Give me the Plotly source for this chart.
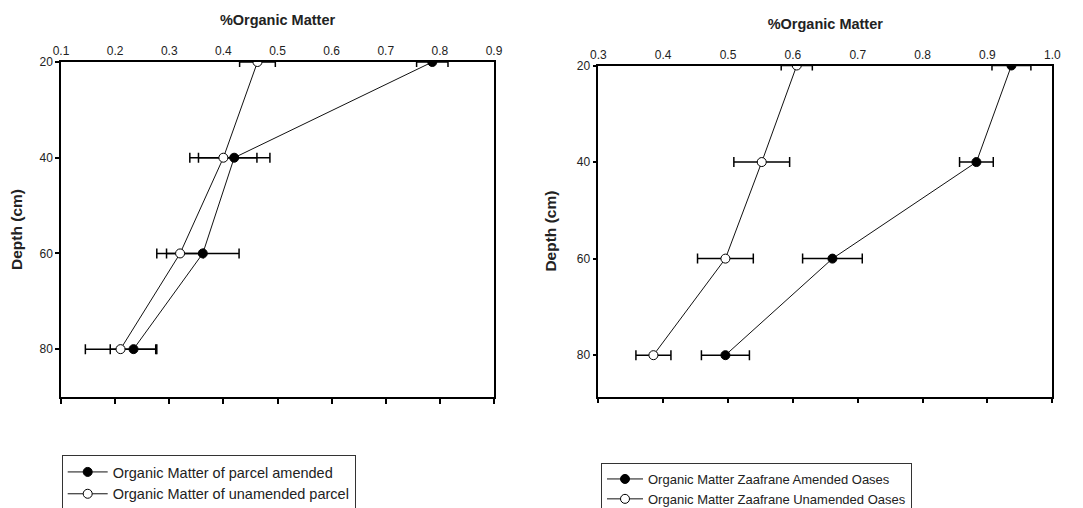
import plotly.graph_objects as go

depth = [20, 40, 60, 80]

# Left panel
left_amended = [0.786, 0.420, 0.362, 0.234]
left_amended_err = [0.029, 0.066, 0.067, 0.043]
left_unamended = [0.463, 0.400, 0.320, 0.210]
left_unamended_err = [0.033, 0.062, 0.043, 0.065]

# Right panel
right_amended = [0.937, 0.883, 0.661, 0.496]
right_amended_err = [0.030, 0.026, 0.046, 0.037]
right_unamended = [0.606, 0.552, 0.496, 0.385]
right_unamended_err = [0.024, 0.043, 0.043, 0.027]

left_ticks = [0.1, 0.2, 0.3, 0.4, 0.5, 0.6, 0.7, 0.8, 0.9]
left_ticktext = ["0.1", "0.2", "0.3", "0.4", "0.5", "0.6", "0.7", "0.8", "0.9"]
right_ticks = [0.3, 0.4, 0.5, 0.6, 0.7, 0.8, 0.9, 1.0]
right_ticktext = ["0.3", "0.4", "0.5", "0.6", "0.7", "0.8", "0.9", "1.0"]
depth_ticks = [20, 40, 60, 80]

FONT = "Liberation Sans, Arial, sans-serif"
OFF = 8  # default page body margin
W, H = 1083 - OFF, 508 - OFF


def px(x):
    return (x - OFF) / W


def py(y):
    return 1 - (y - OFF) / H


def series(x, err, name, filled, xa, ya, legend):
    return go.Scatter(
        x=x, y=depth, name=name, mode="lines+markers",
        xaxis=xa, yaxis=ya, legend=legend,
        line=dict(color="#111111", width=1),
        marker=dict(symbol="circle", size=9,
                    color="black" if filled else "white",
                    line=dict(color="black", width=1)),
        error_x=dict(type="data", array=err, visible=True,
                     color="black", thickness=1.5, width=5),
    )


fig = go.Figure()
fig.add_trace(series(left_amended, left_amended_err, "Organic Matter of parcel amended", True, "x", "y", "legend"))
fig.add_trace(series(left_unamended, left_unamended_err, "Organic Matter of unamended parcel", False, "x", "y", "legend"))
fig.add_trace(series(right_amended, right_amended_err, "Organic Matter Zaafrane Amended Oases", True, "x2", "y2", "legend2"))
fig.add_trace(series(right_unamended, right_unamended_err, "Organic Matter Zaafrane Unamended Oases", False, "x2", "y2", "legend2"))
# invisible traces to activate bottom tick axes
fig.add_trace(go.Scatter(x=[None], y=[None], xaxis="x3", yaxis="y", showlegend=False, hoverinfo="skip"))
fig.add_trace(go.Scatter(x=[None], y=[None], xaxis="x4", yaxis="y2", showlegend=False, hoverinfo="skip"))

tickfont = dict(family=FONT, size=12, color="#222222")
titlefont = dict(family=FONT, size=14.5, color="#222222")

common_top = dict(side="top", showline=True, linecolor="black", linewidth=1.5,
                  ticks="", showgrid=False, zeroline=False, tickfont=tickfont,
                  title_font=titlefont, title_standoff=15, automargin=False)
common_bottom = dict(side="bottom", showticklabels=False, ticks="outside", ticklen=5,
                     tickwidth=1.5, tickcolor="black", showline=True, linecolor="black",
                     linewidth=1.5, showgrid=False, zeroline=False, automargin=False)
common_y = dict(ticks="outside", ticklen=4, tickwidth=1.5, tickcolor="black",
                showline=True, mirror=True, linecolor="black", linewidth=1.5,
                showgrid=False, zeroline=False, tickfont=tickfont,
                title_text="<b>Depth (cm)</b>",
                title_font=dict(family=FONT, size=15.5, color="#222222"),
                title_standoff=16, automargin=False, tickvals=depth_ticks)

fig.update_layout(
    xaxis=dict(domain=[px(61), px(494)], anchor="y", range=[0.1, 0.9], tickvals=left_ticks,
               ticktext=left_ticktext, title_text="<b>%Organic Matter</b>", **common_top),
    xaxis2=dict(domain=[px(598.3), px(1052.3)], anchor="y2", range=[0.3, 1.0], tickvals=right_ticks,
                ticktext=right_ticktext, title_text="<b>%Organic Matter</b>", **common_top),
    xaxis3=dict(overlaying="x", anchor="y", range=[0.1, 0.9], tickvals=left_ticks, **common_bottom),
    xaxis4=dict(overlaying="x2", anchor="y2", range=[0.3, 1.0], tickvals=right_ticks, **common_bottom),
    yaxis=dict(domain=[py(397), py(62)], anchor="x", range=[90, 20], **common_y),
    yaxis2=dict(domain=[py(396.7), py(65.5)], anchor="x2", range=[88.6, 20], **common_y),
    legend=dict(x=px(61.7), y=py(455), xanchor="left", yanchor="top",
                bordercolor="#333333", borderwidth=1, bgcolor="white", itemwidth=40,
                font=dict(family=FONT, size=14.5, color="#222222"), tracegroupgap=0),
    legend2=dict(x=px(601), y=py(463), xanchor="left", yanchor="top",
                 bordercolor="#333333", borderwidth=1, bgcolor="white", itemwidth=36,
                 font=dict(family=FONT, size=13, color="#222222"), tracegroupgap=0),
    width=W, height=H,
    margin=dict(l=0, r=0, t=0, b=0, autoexpand=False),
    paper_bgcolor="white", plot_bgcolor="white",
    showlegend=True,
)

fig.write_html("out.html")
